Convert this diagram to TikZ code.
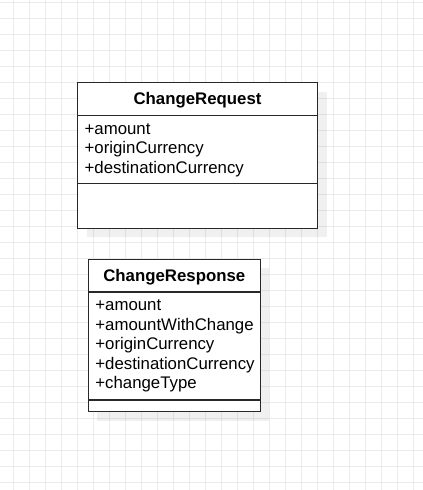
\documentclass[tikz,border=0pt]{standalone}
\usepackage{fontspec}
\setmainfont{Liberation Sans}
\definecolor{gridc}{RGB}{235,235,235}
\definecolor{linec}{RGB}{40,40,40}
\definecolor{textc}{RGB}{0,0,0}
\tikzset{
  gridline/.style={draw=gridc, line width=0.75pt},
  shadowbox/.style={fill=black, fill opacity=0.06, draw=none},
  classbox/.style={draw=linec, line width=1.1pt, fill=white},
  divider/.style={draw=linec, line width=1.1pt},
  thickdivider/.style={draw=linec, line width=1.5pt},
  titletext/.style={inner sep=0pt, text=textc, font=\fontsize{12.6pt}{14.6pt}\selectfont\bfseries},
  attrtext/.style={inner sep=0pt, anchor=base west, text=textc, font=\fontsize{12.6pt}{14.6pt}\selectfont},
}
\begin{document}
\begin{tikzpicture}[x=0.75pt,y=-0.75pt]
\useasboundingbox (0,0) rectangle (423,490);
\fill[white] (0,0) rectangle (423,490);
% grid
\foreach \i in {0,...,25} \draw[gridline] (13.3+16*\i,0) -- (13.3+16*\i,490);
\foreach \j in {0,...,30} \draw[gridline] (0,2.7+16*\j) -- (423,2.7+16*\j);

% ChangeRequest
\fill[shadowbox] (86.5,91.7) rectangle (326.5,237.3);
\draw[classbox] (77.5,82.7) rectangle (317.5,228.3);
\draw[divider] (77.5,115.5) -- (317.5,115.5);
\draw[divider] (77.5,183.7) -- (317.5,183.7);
\node[titletext, anchor=base] (reqtitle) at (197.5,104.7) {ChangeRequest};
\node[attrtext] (reqa1) at (84.4,134.4) {+amount};
\node[attrtext] (reqa2) at (84.4,153.9) {+originCurrency};
\node[attrtext] (reqa3) at (84.4,173.4) {+destinationCurrency};

% ChangeResponse
\fill[shadowbox] (97.3,268.3) rectangle (269.3,420.7);
\draw[classbox] (88.3,259.3) rectangle (260.3,411.7);
\draw[divider] (88.3,292) -- (260.3,292);
\draw[thickdivider] (88.3,399.7) -- (260.3,399.7);
\node[titletext, anchor=base] (restitle) at (174.3,281.5) {ChangeResponse};
\node[attrtext] (resa1) at (95.1,310.8) {+amount};
\node[attrtext] (resa2) at (95.1,330.3) {+amountWithChange};
\node[attrtext] (resa3) at (95.1,349.8) {+originCurrency};
\node[attrtext] (resa4) at (95.1,369.3) {+destinationCurrency};
\node[attrtext] (resa5) at (95.1,388.8) {+changeType};
\end{tikzpicture}
\end{document}
